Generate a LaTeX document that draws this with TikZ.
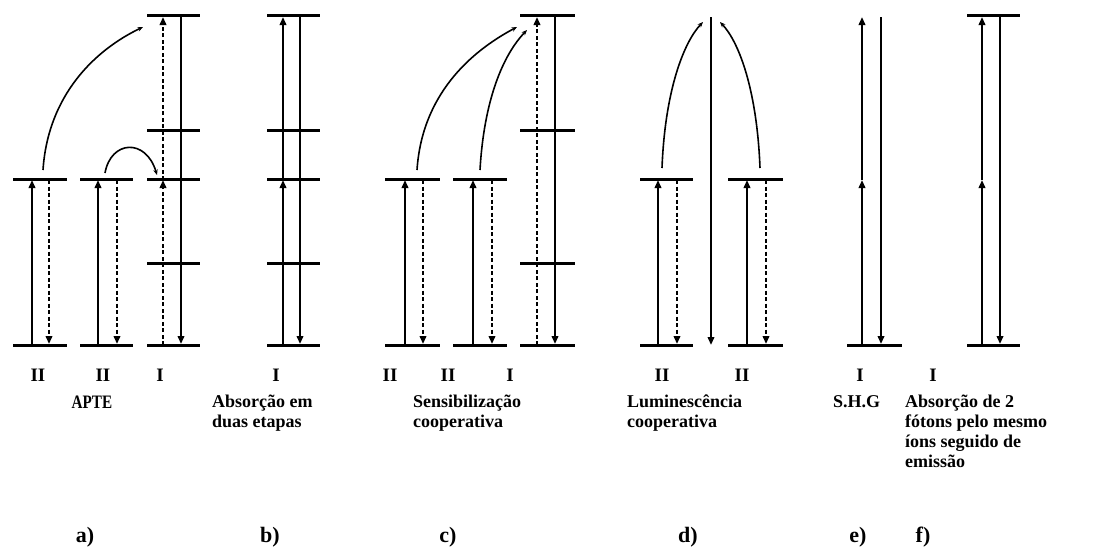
\documentclass[tikz,border=0pt]{standalone}
\usepackage{fontspec}
\setmainfont{Liberation Serif}
\usetikzlibrary{arrows.meta}
\begin{document}
\begin{tikzpicture}[x=1pt,y=-1pt,
 lvl/.style={line width=3pt},
 sol/.style={line width=2.4pt,-{Triangle[length=8pt,width=6.5pt]}},
 dsh/.style={line width=2.4pt,dash pattern=on 4pt off 2.5pt,-{Triangle[length=8pt,width=6.5pt]}},
 crv/.style={line width=1.6pt,-{Stealth[length=5.5pt,width=4.5pt]}},
 num/.style={font=\fontsize{19}{20}\selectfont\bfseries,inner sep=0pt,anchor=base},
 capt/.style={font=\fontsize{18}{20}\selectfont\bfseries,inner sep=0pt,anchor=north west,align=left},
 pan/.style={font=\fontsize{22}{24}\selectfont\bfseries,inner sep=0pt,anchor=base}]
\useasboundingbox (0,0) rectangle (1119,555);

% ---------- panel a ----------
\draw[lvl] (13,345) -- (67,345); \draw[lvl] (13,179) -- (67,179);
\draw[lvl] (80,345) -- (133,345); \draw[lvl] (80,179) -- (133,179);
\foreach \y in {345,263,179,130,15} \draw[lvl] (147,\y) -- (200,\y);
\coordinate (aAu0) at (32,345); \coordinate (aAu1) at (32,180);
\coordinate (aAd0) at (49,180); \coordinate (aAd1) at (49,344);
\coordinate (aBu0) at (98,345); \coordinate (aBu1) at (98,180);
\coordinate (aBd0) at (117,180); \coordinate (aBd1) at (117,344);
\coordinate (aIu0) at (163,345); \coordinate (aIu1) at (163,180); \coordinate (aIu2) at (163,17);
\coordinate (aId0) at (181,15); \coordinate (aId1) at (181,344);
\coordinate (aC0) at (43,170); \coordinate (aC1) at (143,27);
\coordinate (aS0) at (105,173); \coordinate (aS1) at (157,175);
\draw[sol] (aAu0) -- (aAu1); \draw[dsh] (aAd0) -- (aAd1);
\draw[sol] (aBu0) -- (aBu1); \draw[dsh] (aBd0) -- (aBd1);
\draw[dsh] (aIu0) -- (aIu1); \draw[dsh] (aIu1) -- (aIu2);
\draw[sol] (aId0) -- (aId1);
\draw[crv] (aC0) .. controls (48,95) and (95,50) .. (aC1);
\draw[crv] (aS0) .. controls (111,140) and (146,138) .. (aS1);

% ---------- panel b ----------
\foreach \y in {345,263,179,130,15} \draw[lvl] (267,\y) -- (320,\y);
\coordinate (bu0) at (283,345); \coordinate (bu1) at (283,180); \coordinate (bu2) at (283,17);
\coordinate (bd0) at (300,15); \coordinate (bd1) at (300,344);
\draw[sol] (bu0) -- (bu1); \draw[sol] (bu1) -- (bu2);
\draw[sol] (bd0) -- (bd1);

% ---------- panel c ----------
\draw[lvl] (385,345) -- (440,345); \draw[lvl] (385,179) -- (440,179);
\draw[lvl] (453,345) -- (507,345); \draw[lvl] (453,179) -- (507,179);
\foreach \y in {345,263,130,15} \draw[lvl] (520,\y) -- (575,\y);
\coordinate (cAu0) at (405,345); \coordinate (cAu1) at (405,180);
\coordinate (cAd0) at (423,180); \coordinate (cAd1) at (423,344);
\coordinate (cBu0) at (473,345); \coordinate (cBu1) at (473,180);
\coordinate (cBd0) at (492,180); \coordinate (cBd1) at (492,344);
\coordinate (cIu0) at (537,345); \coordinate (cIu1) at (537,17);
\coordinate (cId0) at (555,15); \coordinate (cId1) at (555,344);
\coordinate (cC0) at (417,170); \coordinate (cC1) at (517,27);
\coordinate (cD0) at (480,170); \coordinate (cD1) at (527,30);
\draw[sol] (cAu0) -- (cAu1); \draw[dsh] (cAd0) -- (cAd1);
\draw[sol] (cBu0) -- (cBu1); \draw[dsh] (cBd0) -- (cBd1);
\draw[dsh] (cIu0) -- (cIu1); \draw[sol] (cId0) -- (cId1);
\draw[crv] (cC0) .. controls (422,95) and (470,52) .. (cC1);
\draw[crv] (cD0) .. controls (484,100) and (503,55) .. (cD1);

% ---------- panel d ----------
\draw[lvl] (640,345) -- (693,345); \draw[lvl] (640,179) -- (693,179);
\draw[lvl] (728,345) -- (783,345); \draw[lvl] (728,179) -- (783,179);
\coordinate (dAu0) at (658,345); \coordinate (dAu1) at (658,180);
\coordinate (dAd0) at (677,180); \coordinate (dAd1) at (677,344);
\coordinate (dBu0) at (747,345); \coordinate (dBu1) at (747,180);
\coordinate (dBd0) at (766,180); \coordinate (dBd1) at (766,344);
\coordinate (dM0) at (711,17); \coordinate (dM1) at (711,345);
\coordinate (dC0) at (662,168); \coordinate (dC1) at (703,22);
\coordinate (dD0) at (760,168); \coordinate (dD1) at (720,22);
\draw[sol] (dAu0) -- (dAu1); \draw[dsh] (dAd0) -- (dAd1);
\draw[sol] (dBu0) -- (dBu1); \draw[dsh] (dBd0) -- (dBd1);
\draw[sol] (dM0) -- (dM1);
\draw[crv] (dC0) .. controls (665,90) and (684,42) .. (dC1);
\draw[crv] (dD0) .. controls (757,90) and (739,42) .. (dD1);

% ---------- panel e ----------
\draw[lvl] (847,345) -- (902,345);
\coordinate (eu0) at (862,345); \coordinate (eu1) at (862,180); \coordinate (eu2) at (862,17);
\coordinate (ed0) at (881,17); \coordinate (ed1) at (881,344);
\draw[sol] (eu0) -- (eu1); \draw[sol] (eu1) -- (eu2);
\draw[sol] (ed0) -- (ed1);

% ---------- panel f ----------
\draw[lvl] (967,345) -- (1020,345); \draw[lvl] (967,15) -- (1020,15);
\coordinate (fu0) at (982,345); \coordinate (fu1) at (982,180); \coordinate (fu2) at (982,17);
\coordinate (fd0) at (1000,15); \coordinate (fd1) at (1000,344);
\draw[sol] (fu0) -- (fu1); \draw[sol] (fu1) -- (fu2);
\draw[sol] (fd0) -- (fd1);

% ---------- labels ----------
\node[num] (n1) at (38,381) {II};
\node[num] (n2) at (103,381) {II};
\node[num] (n3) at (160,381) {I};
\node[num] (n4) at (276,381) {I};
\node[num] (n5) at (390,381) {II};
\node[num] (n6) at (448,381) {II};
\node[num] (n7) at (510,381) {I};
\node[num] (n8) at (662,381) {II};
\node[num] (n9) at (742,381) {II};
\node[num] (n10) at (860,381) {I};
\node[num] (n11) at (933,381) {I};

\node[num] (ta) at (92,408) {\scalebox{0.8}[1]{APTE}};
\node[capt] (tb) at (212,395) {Absorção em\\duas etapas};
\node[capt] (tc) at (413,395) {Sensibilização\\cooperativa};
\node[capt] (td) at (627,395) {Luminescência\\cooperativa};
\node[capt] (te) at (833,395) {S.H.G};
\node[capt] (tf) at (905,395) {Absorção de 2\\fótons pelo mesmo\\íons seguido de\\emissão};

\node[pan] (pa) at (85,542) {a)};
\node[pan] (pb) at (270,542) {b)};
\node[pan] (pc) at (448,542) {c)};
\node[pan] (pd) at (688,542) {d)};
\node[pan] (pe) at (858,542) {e)};
\node[pan] (pf) at (923,542) {f)};
\end{tikzpicture}
\end{document}
